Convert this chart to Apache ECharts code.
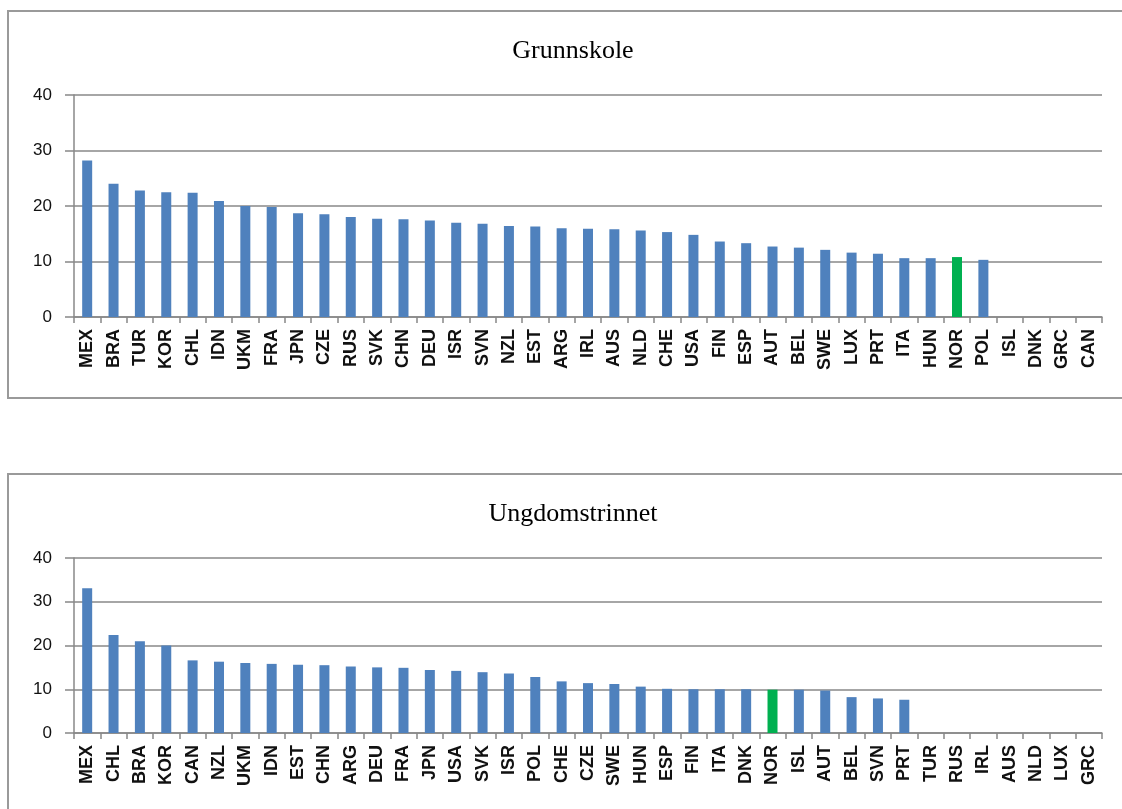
<!DOCTYPE html>
<html>
<head>
<meta charset="utf-8">
<script src="https://cdn.jsdelivr.net/npm/echarts@6/dist/echarts.min.js"></script>
<style>
html,body{margin:0;padding:0;background:#fff;}
#c{width:1122px;height:809px;}
</style>
</head>
<body>
<div id="c"></div>
<script>
const titleTop = 'Grunnskole';
const titleBottom = 'Ungdomstrinnet';
const yTicks = [0, 10, 20, 30, 40];
const highlight = 'NOR';

const catsTop = ['MEX','BRA','TUR','KOR','CHL','IDN','UKM','FRA','JPN','CZE','RUS','SVK','CHN','DEU','ISR','SVN','NZL','EST','ARG','IRL','AUS','NLD','CHE','USA','FIN','ESP','AUT','BEL','SWE','LUX','PRT','ITA','HUN','NOR','POL','ISL','DNK','GRC','CAN'];
const valsTop = [28.2,24.0,22.8,22.5,22.4,20.9,20.0,19.8,18.7,18.5,18.0,17.7,17.6,17.4,17.0,16.8,16.4,16.3,16.0,15.9,15.8,15.6,15.3,14.8,13.6,13.3,12.7,12.5,12.1,11.6,11.4,10.6,10.6,10.8,10.3,null,null,null,null];

const catsBottom = ['MEX','CHL','BRA','KOR','CAN','NZL','UKM','IDN','EST','CHN','ARG','DEU','FRA','JPN','USA','SVK','ISR','POL','CHE','CZE','SWE','HUN','ESP','FIN','ITA','DNK','NOR','ISL','AUT','BEL','SVN','PRT','TUR','RUS','IRL','AUS','NLD','LUX','GRC'];
const valsBottom = [33.1,22.4,21.0,20.0,16.6,16.3,16.0,15.8,15.6,15.5,15.2,15.0,14.9,14.4,14.2,13.9,13.6,12.8,11.8,11.4,11.2,10.6,10.1,10.0,10.0,10.0,9.9,9.9,9.7,8.2,7.9,7.6,null,null,null,null,null,null,null];

const BLUE = '#4F81BD';
const GREEN = '#00B050';
const GRID_GRAY = '#888888';

function xAxisCfg(idx, cats) {
  return {
    type: 'category', gridIndex: idx, data: cats,
    axisLine: {lineStyle: {color: GRID_GRAY, width: 1.5}},
    axisTick: {show: true, length: 6, lineStyle: {color: GRID_GRAY, width: 1.5}},
    axisLabel: {interval: 0, rotate: 90, margin: 12, color: '#111',
      fontFamily: 'Liberation Sans', fontWeight: 'bold', fontSize: 18}
  };
}
function yAxisCfg(idx) {
  return {
    type: 'value', gridIndex: idx, min: yTicks[0], max: yTicks[yTicks.length-1], interval: yTicks[1]-yTicks[0],
    axisLine: {show: true, lineStyle: {color: GRID_GRAY, width: 1.5}},
    axisTick: {show: true, length: 9, lineStyle: {color: GRID_GRAY, width: 1.5}},
    splitLine: {show: true, lineStyle: {color: GRID_GRAY, width: 1.5}},
    axisLabel: {margin: 22, color: '#111', fontFamily: 'Liberation Sans', fontSize: 17}
  };
}
function barSeries(idx, cats, vals) {
  return {
    type: 'bar', xAxisIndex: idx, yAxisIndex: idx, barWidth: 10,
    data: vals.map((v, i) => ({value: v, itemStyle: {color: cats[i] === highlight ? GREEN : BLUE}})),
    silent: true, animation: false
  };
}

const chart = echarts.init(document.getElementById('c'), null, {renderer: 'canvas'});
chart.setOption({
  animation: false,
  backgroundColor: '#fff',
  graphic: [
    {type: 'rect', shape: {x: 8, y: 11, width: 1130, height: 387}, style: {fill: 'none', stroke: '#9a9a9a', lineWidth: 2}, z: -10},
    {type: 'rect', shape: {x: 8, y: 474, width: 1130, height: 400}, style: {fill: 'none', stroke: '#9a9a9a', lineWidth: 2}, z: -10}
  ],
  title: [
    {text: titleTop, left: 568, top: 33, textAlign: 'center',
      textStyle: {fontFamily: 'Liberation Serif', fontWeight: 'normal', fontSize: 26, color: '#000'}},
    {text: titleBottom, left: 568, top: 496, textAlign: 'center',
      textStyle: {fontFamily: 'Liberation Serif', fontWeight: 'normal', fontSize: 26, color: '#000'}}
  ],
  grid: [
    {left: 74, right: 20, top: 95, height: 222, containLabel: false},
    {left: 74, right: 20, top: 558, height: 175, containLabel: false}
  ],
  xAxis: [xAxisCfg(0, catsTop), xAxisCfg(1, catsBottom)],
  yAxis: [yAxisCfg(0), yAxisCfg(1)],
  series: [barSeries(0, catsTop, valsTop), barSeries(1, catsBottom, valsBottom)]
});
</script>
</body>
</html>
